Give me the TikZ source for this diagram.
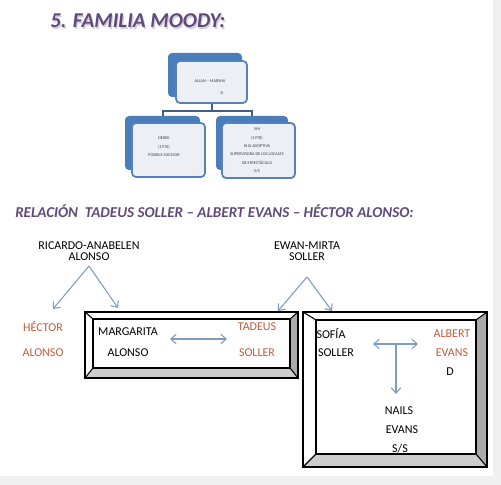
\documentclass[tikz,border=0pt]{standalone}
\usepackage{fontspec}
\setmainfont{Carlito}
\usetikzlibrary{arrows.meta}
\definecolor{titlepurple}{RGB}{96,74,123}
\definecolor{titleshadow}{RGB}{210,205,220}
\definecolor{redtext}{RGB}{197,90,60}
\definecolor{arrowblue}{RGB}{125,155,195}
\definecolor{backblue}{RGB}{74,126,187}
\definecolor{frontfill}{RGB}{236,239,244}
\definecolor{frontline}{RGB}{90,128,185}
\definecolor{linkblue}{RGB}{60,95,140}
\definecolor{pagegray}{RGB}{240,240,240}
\definecolor{bevelbottom}{RGB}{205,205,205}
\definecolor{bevelright}{RGB}{170,170,170}
\newcommand\bevelframe[8]{%
  \fill[white] (#5,#6) rectangle (#7,#8);
  \fill[white] (#1,#2) -- (#3,#2) -- (#7,#6) -- (#5,#6) -- cycle;
  \fill[white] (#1,#2) -- (#5,#6) -- (#5,#8) -- (#1,#4) -- cycle;
  \fill[bevelbottom] (#1,#4) -- (#5,#8) -- (#7,#8) -- (#3,#4) -- cycle;
  \fill[bevelright] (#3,#2) -- (#7,#6) -- (#7,#8) -- (#3,#4) -- cycle;
  \draw[frameline] (#1,#2) rectangle (#3,#4);
  \draw[frameline] (#5,#6) rectangle (#7,#8);
  \draw[frameline] (#1,#2) -- (#5,#6) (#3,#2) -- (#7,#6) (#1,#4) -- (#5,#8) (#3,#4) -- (#7,#8);
}
\begin{document}
\begin{tikzpicture}[x=0.75pt,y=-0.75pt,
  frameline/.style={black,line width=0.8pt},
  titlestyle/.style={anchor=west,inner sep=0pt,text=titlepurple,font=\fontsize{15.8}{18}\selectfont\bfseries\itshape},
  subtitlestyle/.style={anchor=west,inner sep=0pt,text=titlepurple,font=\fontsize{11.3}{13}\selectfont\bfseries\itshape},
  txt/.style={inner sep=0pt,align=center,font=\fontsize{9}{8.25}\selectfont},
  redtxt/.style={txt,text=redtext},
  arr/.style={arrowblue,line width=0.8pt,-{Straight Barb[length=4pt,width=7pt]}},
  darr/.style={arrowblue,line width=0.8pt,{Straight Barb[length=4pt,width=7pt]}-{Straight Barb[length=4pt,width=7pt]}},
  backbox/.style={fill=backblue,rounded corners=3pt,inner sep=0pt},
  frontbox/.style={fill=frontfill,draw=frontline,line width=1.3pt,rounded corners=3pt,inner sep=0pt},
  tiny/.style={inner sep=0pt,align=center,text=black!75,font=\fontsize{3.2}{6.3}\selectfont},
  link/.style={linkblue,line width=1.5pt}
]
\useasboundingbox (0,0) rectangle (501,485);
\fill[pagegray] (0,0) rectangle (501,485);
\fill[white] (0,0) rectangle (493,476);

% titles
\node[titlestyle,text=titleshadow] (titleshadow) at (51.2,22.2) {5. FAMILIA MOODY:};
\node[titlestyle] (title) at (50,21) {5. FAMILIA MOODY:};
\node[subtitlestyle] (subtitle) at (15,211) {RELACIÓN\ \ TADEUS SOLLER – ALBERT EVANS – HÉCTOR ALONSO:};

% org chart
\node[backbox,minimum width=55.5pt,minimum height=33pt] (topback) at (205,75) {};
\node[frontbox,minimum width=53.25pt,minimum height=31.5pt] (topfront) at (211.5,82) {};
\node[backbox,minimum width=56.25pt,minimum height=40.5pt] (derekback) at (162.5,143) {};
\node[frontbox,minimum width=54.75pt,minimum height=40.5pt] (derekfront) at (168.5,150) {};
\node[backbox,minimum width=54pt,minimum height=40.5pt] (shiback) at (252,143) {};
\node[frontbox,minimum width=54.75pt,minimum height=41.25pt] (shifront) at (258.5,150.5) {};
\draw[link] (topfront.south) -- ++(0,7) coordinate (split) -| (derekback.north);
\draw[link] (split) -| (shiback.north);

\node[tiny] (allan) at (210,81) {ALLAN – MARSHA};
\node[tiny] (allanD) at (222,93) {D};
\node[tiny] (derek) at (164,147) {DEREK\\(1970)\\POSIBLE SUCESOR};
\node[tiny] (shi) at (257,150.5) {SHI\\(1978)\\HIJA ADOPTIVA\\SUPERVISORA DE LOS LOCALES\\DE ESPECTÁCULO\\S/S};

% bevel frames
\bevelframe{85}{312}{298}{378}{93}{319}{290}{368}
\bevelframe{303}{312}{487}{467}{316}{320}{476}{454}

% parents
\node[txt] (ricardo) at (89,251) {RICARDO-ANABELEN\\ALONSO};
\node[txt] (ewan) at (307,251) {EWAN-MIRTA\\SOLLER};
\coordinate (rtop) at (89,266);
\coordinate (rleft) at (53,309);
\coordinate (rright) at (118,308);
\draw[arr] (rtop) -- (rleft);
\draw[arr] (rtop) -- (rright);
\coordinate (etop) at (307,277);
\coordinate (eleft) at (278,311);
\coordinate (eright) at (332,311);
\draw[arr] (etop) -- (eleft);
\draw[arr] (etop) -- (eright);

% left side
\node[redtxt] (hector) at (43,327) {HÉCTOR};
\node[redtxt] (halonso) at (43,353) {ALONSO};

% frame 1
\node[txt] (margarita) at (128,332) {MARGARITA};
\node[txt] (malonso) at (128,353) {ALONSO};
\node[redtxt] (tadeus) at (257,327) {TADEUS};
\node[redtxt] (tsoller) at (257,353) {SOLLER};
\coordinate (m1) at (170,339);
\coordinate (m2) at (227,339);
\draw[darr] (m1) -- (m2);

% frame 2
\node[txt] (sofia) at (331,334) {SOFÍA};
\node[txt] (ssoller) at (336,353) {SOLLER};
\node[redtxt] (albert) at (452,334) {ALBERT};
\node[redtxt] (aevans) at (452,353) {EVANS};
\node[txt] (albertD) at (450,372) {D};
\node[txt] (nails) at (399,411) {NAILS};
\node[txt] (nevans) at (402,430) {EVANS};
\node[txt] (nss) at (400,449) {S/S};
\coordinate (s1) at (373,344);
\coordinate (s2) at (418,344);
\coordinate (smid) at (396,344);
\coordinate (sdown) at (396,394);
\draw[darr] (s1) -- (s2);
\draw[arr] (smid) -- (sdown);
\end{tikzpicture}
\end{document}
